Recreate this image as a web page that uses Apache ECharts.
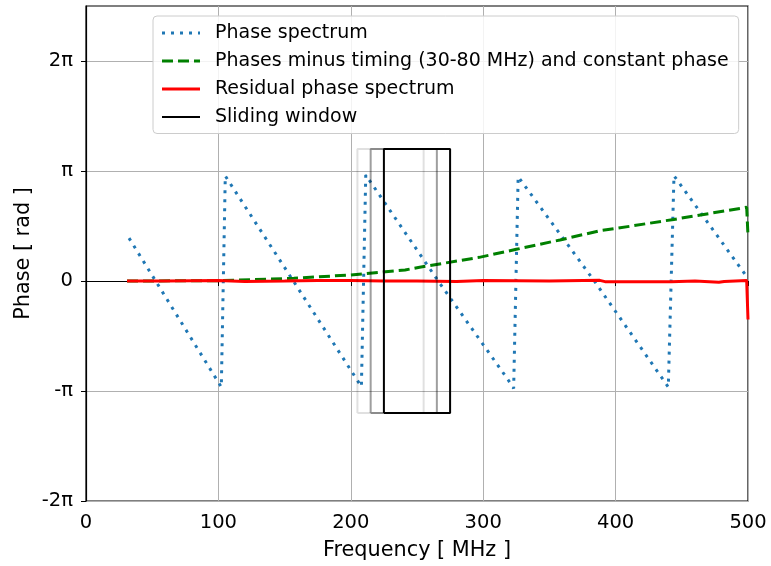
<!DOCTYPE html>
<html>
<head>
<meta charset="utf-8">
<script src="https://cdn.jsdelivr.net/npm/echarts@6/dist/echarts.min.js"></script>
<style>html,body{margin:0;padding:0;background:#fff}#c{width:771px;height:566px}</style>
</head>
<body>
<div id="c"></div>
<script>
// Values in units of pi radians; frequency in MHz
const phaseFreq = [32.5, 52.6, 102.2, 105.2, 156.6, 208.0, 211.3, 266.0, 318.9, 323.0, 326.4, 383.9, 439.8, 444.1, 499.0, 500.0];
const phaseVals = [0.39, 0.0, -0.964, 0.955, 0.0, -0.96, 0.964, 0.0, -0.9, -0.976, 0.948, 0.0, -0.964, 0.957, 0.04, 0.02];

const greenFreq = [31, 100, 157, 200, 241, 252, 297, 325, 358, 388, 401, 444, 499, 500];
const greenVals = [0.0, 0.003, 0.025, 0.055, 0.1, 0.125, 0.215, 0.288, 0.373, 0.457, 0.479, 0.56, 0.67, 0.41];

const resFreq = [31, 60, 100, 120, 150, 175, 200, 225, 250, 280, 300, 350, 388, 392, 421, 442, 460, 478, 482, 499, 500];
const resVals = [0.0, 0.0, 0.004, -0.004, 0.0, 0.004, 0.004, 0.0, 0.0, -0.004, 0.004, 0.0, 0.006, -0.006, -0.006, -0.006, 0.0, -0.012, -0.004, 0.004, -0.35];

const windowStarts = [205, 215, 225];
const windowWidth = 50;
const windowHalfHeight = 1.2;

const yTicks = [-2, -1, 0, 1, 2];
const yTickLabels = ['-2π', '-π', '0', 'π', '2π'];
const xTicks = [0, 100, 200, 300, 400, 500];

const legendNames = ['Phase spectrum', 'Phases minus timing (30-80 MHz) and constant phase', 'Residual phase spectrum', 'Sliding window'];

function zip(a, b) { return a.map((v, i) => [v, b[i]]); }
function rect(x0) {
  const x1 = x0 + windowWidth, h = windowHalfHeight;
  return [[x0, -h], [x1, -h], [x1, h], [x0, h], [x0, -h]];
}

const FONT = 'DejaVu Sans';
const chart = echarts.init(document.getElementById('c'), null, {renderer: 'canvas'});
const windowColors = ['rgba(0,0,0,0.12)', 'rgba(0,0,0,0.38)', '#000000'];

const series = [
  {name: legendNames[0], type: 'line', data: zip(phaseFreq, phaseVals), symbol: 'none', showSymbol: false,
   lineStyle: {color: '#1f77b4', width: 3, type: [3, 6], cap: 'butt'}, itemStyle: {color: '#1f77b4'}, z: 3},
  {name: legendNames[1], type: 'line', data: zip(greenFreq, greenVals), symbol: 'none', showSymbol: false,
   lineStyle: {color: '#008000', width: 3, type: [11, 5], cap: 'butt'}, itemStyle: {color: '#008000'}, z: 4},
  {name: legendNames[2], type: 'line', data: zip(resFreq, resVals), symbol: 'none', showSymbol: false,
   lineStyle: {color: '#ff0000', width: 3}, itemStyle: {color: '#ff0000'}, z: 5}
];
windowStarts.forEach((s, i) => {
  series.push({name: i === windowStarts.length - 1 ? legendNames[3] : 'window' + i, type: 'line', data: rect(s),
    symbol: 'none', showSymbol: false, lineStyle: {color: windowColors[i], width: 2}, itemStyle: {color: windowColors[i]}, z: 6});
});

const legendWidths = [3, 3, 3, 2];

chart.setOption({
  animation: false,
  textStyle: {fontFamily: FONT},
  grid: {left: 86, right: 23, top: 6, bottom: 65, show: true, borderColor: '#000', borderWidth: 1.2, backgroundColor: 'transparent'},
  legend: {
    data: legendNames.map((n, i) => ({name: n, lineStyle: {width: legendWidths[i]}})),
    orient: 'vertical', left: 153, top: 16,
    padding: [7.5, 10, 7, 7.5], itemGap: 9, itemWidth: 38, itemHeight: 14,
    backgroundColor: 'rgba(255,255,255,0.85)', borderColor: '#cccccc', borderWidth: 1, borderRadius: 4,
    itemStyle: {opacity: 0},
    textStyle: {fontFamily: FONT, fontSize: 19, color: '#000', padding: [0, 0, 0, 10], lineHeight: 19},
    selectedMode: false
  },
  xAxis: {
    type: 'value', min: 0, max: 500, interval: 100,
    name: 'Frequency [ MHz ]', nameLocation: 'middle', nameGap: 39, nameMoveOverlap: false,
    nameTextStyle: {fontFamily: FONT, fontSize: 20.8, color: '#000'},
    axisLine: {show: true, lineStyle: {color: '#000', width: 1.2}},
    axisTick: {show: true, length: 5, inside: false, lineStyle: {color: '#000', width: 1}},
    axisLabel: {fontFamily: FONT, fontSize: 19.5, color: '#000', margin: 12,
      customValues: xTicks},
    splitLine: {show: true, lineStyle: {color: '#b0b0b0', width: 1}}
  },
  yAxis: {
    type: 'value', min: -2, max: 2.5, interval: 1,
    name: 'Phase [ rad ]', nameLocation: 'middle', nameGap: 52, nameMoveOverlap: false,
    nameTextStyle: {fontFamily: FONT, fontSize: 20.8, color: '#000'},
    axisLine: {show: true, lineStyle: {color: '#000', width: 1.2}},
    axisTick: {show: true, length: 5, inside: false, lineStyle: {color: '#000', width: 1}, customValues: yTicks},
    axisLabel: {fontFamily: FONT, fontSize: 19.5, color: '#000', margin: 13, customValues: yTicks,
      formatter: v => { const i = yTicks.indexOf(Math.round(v * 1000) / 1000); return i >= 0 ? yTickLabels[i] : ''; }},
    splitLine: {show: true, lineStyle: {color: '#b0b0b0', width: 1}}
  },
  series: series
});
</script>
</body>
</html>
